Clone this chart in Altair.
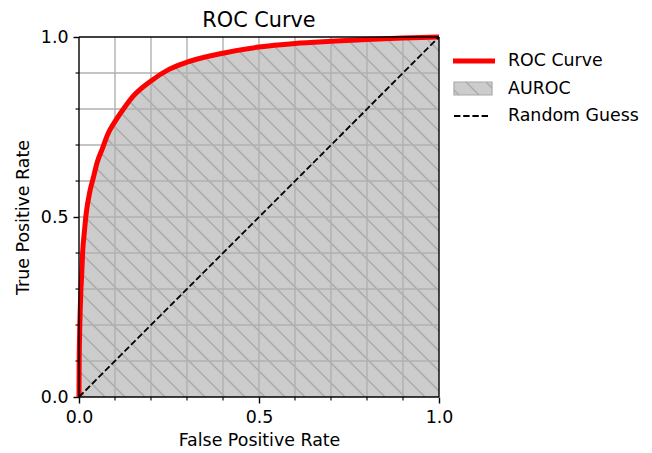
import altair as alt
import pandas as pd

# ---------------- data ----------------
fpr = [0.0, 0.0005, 0.001, 0.002, 0.003, 0.005, 0.0075, 0.01, 0.015, 0.02, 0.03,
       0.04, 0.05, 0.065, 0.08, 0.10, 0.12, 0.15, 0.20, 0.25, 0.30, 0.40, 0.50,
       0.60, 0.70, 0.80, 0.90, 1.0]
tpr = [0.0, 0.10, 0.14, 0.19, 0.23, 0.29, 0.34, 0.40, 0.46, 0.51, 0.57,
       0.61, 0.65, 0.69, 0.73, 0.765, 0.795, 0.835, 0.878, 0.91, 0.93, 0.955, 0.972,
       0.982, 0.988, 0.993, 0.997, 1.0]
guess_fpr = [0.0, 1.0]
guess_tpr = [0.0, 1.0]
major_ticks = [0.0, 0.5, 1.0]
minor_ticks = [0.1, 0.2, 0.3, 0.4, 0.6, 0.7, 0.8, 0.9]
grid_values = [0.1, 0.2, 0.3, 0.4, 0.5, 0.6, 0.7, 0.8, 0.9]
legend_labels = ["ROC Curve", "AUROC", "Random Guess"]
chart_title = "ROC Curve"
x_title = "False Positive Rate"
y_title = "True Positive Rate"

# ---------------- styling ----------------
W = H = 360
FONT = "DejaVu Sans"
FS = 17.4
HATCH_STEP = 20.0 / W
GRID_COLOR = "#b0b0b0"
HATCH_COLOR = "#a8a8a8"
FILL_COLOR = "#cccccc"

curve = pd.DataFrame({"fpr": fpr, "tpr": tpr, "zero": 0.0, "one": 1.0})
guess = pd.DataFrame({"fpr": guess_fpr, "tpr": guess_tpr})
grid_df = pd.DataFrame({"v": grid_values})
minor_df = pd.DataFrame({"v": minor_ticks})
one = pd.DataFrame({"k": [0]})

# hatch pattern ("\\" lines) laid over the whole plot, later masked above the curve
n_h = int(2 / HATCH_STEP) + 2
offs = [HATCH_STEP * (k + 0.3) for k in range(n_h)]
hatch = pd.DataFrame({"x0": [c - 1 for c in offs], "y0": [1.0] * n_h,
                      "x1": offs, "y1": [0.0] * n_h})

scale = alt.Scale(domain=[0, 1], nice=False, zero=False)
common_axis = dict(values=major_ticks, format=".1f", grid=False, domain=False,
                   tickSize=6, tickWidth=1.4, tickColor="black",
                   labelFont=FONT, labelFontSize=FS, labelColor="black",
                   labelPadding=5, labelFlush=False,
                   titleFont=FONT, titleFontSize=FS, titleFontWeight="normal",
                   titleColor="black")
x_axis = alt.Axis(title=x_title, titlePadding=6, **common_axis)
y_axis = alt.Axis(title=y_title, titlePadding=8, **common_axis)


def X(f):
    return alt.X(f, type="quantitative", scale=scale, axis=x_axis)


def Y(f):
    return alt.Y(f, type="quantitative", scale=scale, axis=y_axis)


gray_area = alt.Chart(curve).mark_area(interpolate="monotone", color=FILL_COLOR).encode(
    x=X("fpr"), y=Y("tpr"), y2="zero")

hatch_lines = alt.Chart(hatch).mark_rule(clip=True, color=HATCH_COLOR, strokeWidth=1.4).encode(
    x=X("x0"), y=Y("y0"), x2="x1", y2="y1")

white_mask = alt.Chart(curve).mark_area(interpolate="monotone", color="white").encode(
    x=X("fpr"), y=Y("tpr"), y2="one")

grid_v = alt.Chart(grid_df).mark_rule(color=GRID_COLOR, strokeWidth=1.4).encode(
    x=X("v"), y=alt.value(0), y2=alt.value(H))
grid_h = alt.Chart(grid_df).mark_rule(color=GRID_COLOR, strokeWidth=1.4).encode(
    y=Y("v"), x=alt.value(0), x2=alt.value(W))

roc_line = alt.Chart(curve).mark_line(interpolate="monotone", color="red", strokeWidth=5).encode(
    x=X("fpr"), y=Y("tpr"))

guess_line = alt.Chart(guess).mark_line(color="black", strokeWidth=1.8, strokeDash=[6.4, 2.8]).encode(
    x=X("fpr"), y=Y("tpr"))

minor_x = alt.Chart(minor_df).mark_rule(clip=False, color="black", strokeWidth=1.1).encode(
    x=X("v"), y=alt.value(H), y2=alt.value(H + 3.5))
minor_y = alt.Chart(minor_df).mark_rule(clip=False, color="black", strokeWidth=1.1).encode(
    y=Y("v"), x=alt.value(0), x2=alt.value(-3.5))

spine_style = dict(color="black", strokeWidth=1.4, clip=False)
spines = [
    alt.Chart(one).mark_rule(**spine_style).encode(x=alt.value(0), x2=alt.value(W), y=alt.value(0)),
    alt.Chart(one).mark_rule(**spine_style).encode(x=alt.value(0), x2=alt.value(W), y=alt.value(H)),
    alt.Chart(one).mark_rule(**spine_style).encode(x=alt.value(0), y=alt.value(0), y2=alt.value(H)),
    alt.Chart(one).mark_rule(**spine_style).encode(x=alt.value(W), y=alt.value(0), y2=alt.value(H)),
]

# ---------------- manual legend ----------------
LX0, LX1, TX = W + 15, W + 55, W + 69
rows = [24, 51.5, 79]
legend = [
    alt.Chart(one).mark_rule(color="red", strokeWidth=5, clip=False).encode(
        x=alt.value(LX0 - 1), x2=alt.value(LX1 + 1), y=alt.value(rows[0])),
    alt.Chart(one).mark_rect(fill=FILL_COLOR, stroke="#a8a8a8", strokeWidth=1.2, clip=False).encode(
        x=alt.value(LX0), x2=alt.value(LX1 - 2), y=alt.value(rows[1] - 6.5), y2=alt.value(rows[1] + 6.5)),
    alt.Chart(one).mark_rule(color="black", strokeWidth=1.8, strokeDash=[6.4, 2.8], clip=False).encode(
        x=alt.value(LX0), x2=alt.value(LX1 - 4), y=alt.value(rows[2])),
]
# hatch strokes inside the legend patch
px0, px1, py0, py1 = LX0, LX1 - 2, rows[1] - 6.5, rows[1] + 6.5
for a in [px0 - 8, px0 + 12, px0 + 32]:
    xs = max(a, px0)
    xe = min(a + (py1 - py0), px1)
    if xe > xs:
        legend.append(alt.Chart(one).mark_rule(color=HATCH_COLOR, strokeWidth=1.2, clip=False).encode(
            x=alt.value(xs), x2=alt.value(xe),
            y=alt.value(py0 + (xs - a)), y2=alt.value(py0 + (xe - a))))
for lab, ry in zip(legend_labels, rows):
    legend.append(alt.Chart(one).mark_text(align="left", baseline="middle", font=FONT,
                                           fontSize=FS, color="black", clip=False).encode(
        x=alt.value(TX), y=alt.value(ry), text=alt.value(lab)))

chart = alt.layer(
    gray_area, hatch_lines, white_mask, grid_v, grid_h, roc_line, guess_line,
    *spines, minor_x, minor_y, *legend
).properties(
    width=W, height=H,
    title=alt.Title(chart_title, font=FONT, fontSize=20.8, fontWeight="normal",
                    color="black", anchor="middle", frame="group", offset=-5),
    padding={"left": 6, "top": 2, "right": 0, "bottom": 3},
).configure(font=FONT).configure_view(strokeWidth=0)

chart.save("out.html", embed_options={"renderer": "svg", "actions": False})
